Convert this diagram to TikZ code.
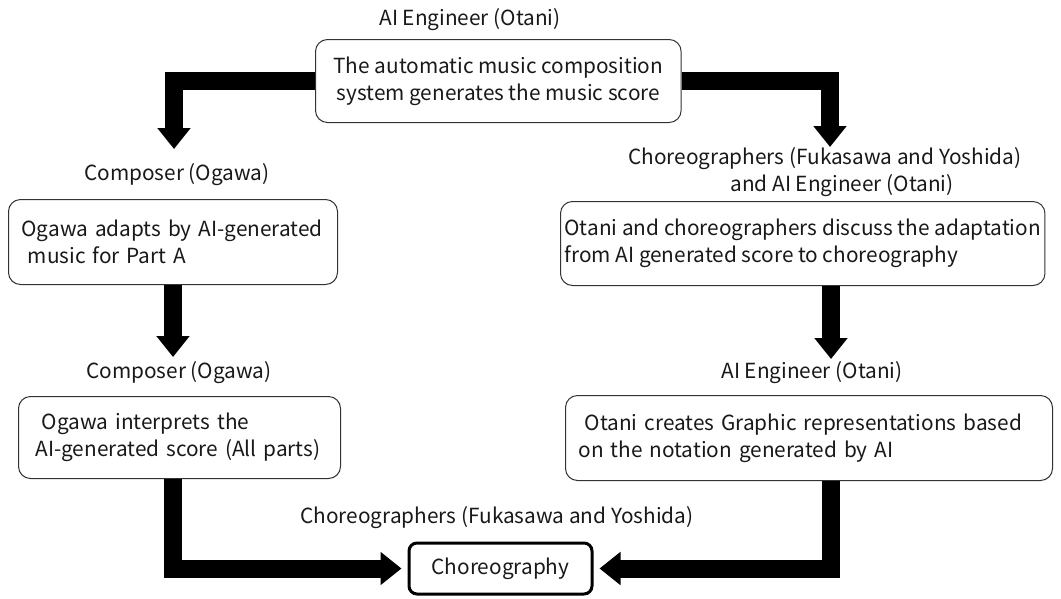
\documentclass[tikz,border=0pt]{standalone}
\usepackage{fontspec}
\setmainfont{Noto Sans CJK JP}
\usetikzlibrary{arrows.meta}
\begin{document}
\begin{tikzpicture}[x=1pt,y=-1pt,
  font=\fontsize{20.8}{27}\selectfont,
  box/.style={draw=black!80, line width=1pt, rounded corners=12pt, minimum height=84pt, anchor=north west, text=black!90},
  lbl/.style={text=black!90, inner sep=0pt},
  bigarrow/.style={line width=18pt, -{Triangle[length=21pt,width=32pt]}, line join=miter}
]
\useasboundingbox[fill=white] (0,0) rectangle (1061,598);

\node[lbl] (l1) at (470,20) {AI Engineer (Otani)};
\node[box, inner xsep=18pt, align=center, minimum height=83pt] (top) at (315,39)
  {The automatic music composition\\system generates the music score};

\node[lbl] (l2) at (177,175) {Composer (Ogawa)};
\node[box, inner xsep=13pt, text width=303pt, align=left, minimum height=85pt] (b2) at (8,199)
  {Ogawa adapts by AI-generated\\\hspace*{0.3em}music for Part A};

\node[lbl, align=center] (l3) at (825,172) {Choreographers (Fukasawa and Yoshida)\\\hspace*{34pt}and AI Engineer (Otani)};
\node[box, inner xsep=4pt, align=left, minimum height=84pt] (b3) at (560,201)
  {Otani and choreographers discuss the adaptation\\from AI generated score to choreography};

\node[lbl] (l4) at (179,373) {Composer (Ogawa)};
\node[box, inner xsep=17pt, text width=288pt, align=left, minimum height=82pt] (b4) at (18,396)
  {\hspace*{0.3em}Ogawa interprets the\\AI-generated score (All parts)};

\node[lbl] (l5) at (812,373) {AI Engineer (Otani)};
\node[box, inner xsep=13pt, text width=461pt, align=left, minimum height=85pt] (b5) at (565,395)
  {\hspace*{0.3em}Otani creates Graphic representations based\\on the notation generated by AI};

\node[lbl] (l6) at (497,518) {Choreographers (Fukasawa and Yoshida)};
\node[draw=black, line width=3pt, rounded corners=8pt, minimum width=183pt, minimum height=51pt, text=black!90] (ch) at (500.5,568.5) {Choreography};

\coordinate (a1) at (174,149);
\coordinate (a2) at (830,147);
\coordinate (a3) at (173,357);
\coordinate (a4) at (831,359);

\draw[bigarrow] (top.west) -| (a1);
\draw[bigarrow] (top.east) -| (a2);
\draw[bigarrow] (b2.south -| a3) -- (a3);
\draw[bigarrow] (b3.south -| a4) -- (a4);
\draw[bigarrow, shorten >=6pt] (b4.south -| a3) |- (ch.west);
\draw[bigarrow, shorten >=6pt] (b5.south -| a4) |- (ch.east);
\end{tikzpicture}
\end{document}
